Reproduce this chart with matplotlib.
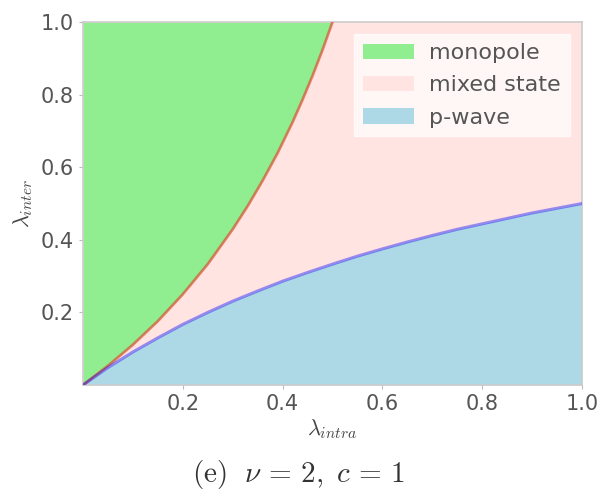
import matplotlib
matplotlib.use("Agg")
import matplotlib.pyplot as plt
import numpy as np

# Boundary monopole / mixed state
upper_x = [0.0, 0.05, 0.10, 0.15, 0.20, 0.25, 0.30, 0.33, 0.36, 0.39, 0.42, 0.44, 0.46, 0.48, 0.50]
upper_y = [0.0, 0.053, 0.111, 0.176, 0.25, 0.333, 0.429, 0.493, 0.563, 0.639, 0.724, 0.786, 0.852, 0.923, 1.0]

# Boundary mixed state / p-wave
lower_x = [0.0, 0.05, 0.10, 0.15, 0.20, 0.25, 0.30, 0.35, 0.40, 0.45, 0.50,
           0.55, 0.60, 0.65, 0.70, 0.75, 0.80, 0.85, 0.90, 0.95, 1.0]
lower_y = [0.0, 0.048, 0.091, 0.130, 0.167, 0.200, 0.231, 0.259, 0.286, 0.310, 0.333,
           0.355, 0.375, 0.394, 0.412, 0.429, 0.444, 0.459, 0.474, 0.487, 0.500]

labels = ["monopole", "mixed state", "p-wave"]
ticks = [0.2, 0.4, 0.6, 0.8, 1.0]
tick_labels = ["0.2", "0.4", "0.6", "0.8", "1.0"]
caption = r"$\mathrm{(e)}\ \ \nu\,=\,2,\ c\,=\,1$"

plt.rcParams["mathtext.fontset"] = "cm"

fig = plt.figure(figsize=(5.98, 4.90), dpi=100)
ax = fig.add_axes([0.1388, 0.2143, 0.8344, 0.7407])

# mixed state background
ax.fill_between([0, 1], [0, 0], [1, 1], color="mistyrose", label=labels[1], zorder=1, linewidth=0)
# monopole region: left of upper boundary
ux = np.array(upper_x); uy = np.array(upper_y)
ax.fill_betweenx(np.concatenate([uy, [1.0]]), 0, np.concatenate([ux, [ux[-1]]]),
                 color="lightgreen", label=labels[0], zorder=2, linewidth=0)
# p-wave region: below lower boundary
ax.fill_between(lower_x, 0, lower_y, color="lightblue", label=labels[2], zorder=2, linewidth=0)

ax.plot(upper_x, upper_y, color="red", alpha=0.45, lw=2, zorder=3)
ax.plot(lower_x, lower_y, color="blue", alpha=0.4, lw=2.2, zorder=3)

ax.set_xlim(0, 1)
ax.set_ylim(0, 1)
ax.set_xticks(ticks)
ax.set_xticklabels(tick_labels)
ax.set_yticks(ticks)
ax.set_yticklabels(tick_labels)
ax.tick_params(labelsize=15, colors="#555555", length=3, width=0.8, color="#bbbbbb")
for s in ax.spines.values():
    s.set_color("#cccccc")
    s.set_linewidth(1.2)

ax.set_xlabel(r"$\lambda_{intra}$", fontsize=16, color="#444444", labelpad=2)
ax.set_ylabel(r"$\lambda_{inter}$", fontsize=16, color="#444444", labelpad=4)

h, l = ax.get_legend_handles_labels()
order = [l.index(x) for x in labels]
leg = ax.legend([h[i] for i in order], [l[i] for i in order], loc="upper right",
                fontsize=16, frameon=True, framealpha=0.7, edgecolor="white",
                fancybox=False, handlelength=2.3, borderpad=0.4, handletextpad=0.7,
                borderaxespad=0.55, labelspacing=0.55)
for t in leg.get_texts():
    t.set_color("#555555")

fig.text(0.5, 0.032, caption, ha="center", va="center", fontsize=21, color="#333333")

fig.savefig("out.png", dpi=100)
